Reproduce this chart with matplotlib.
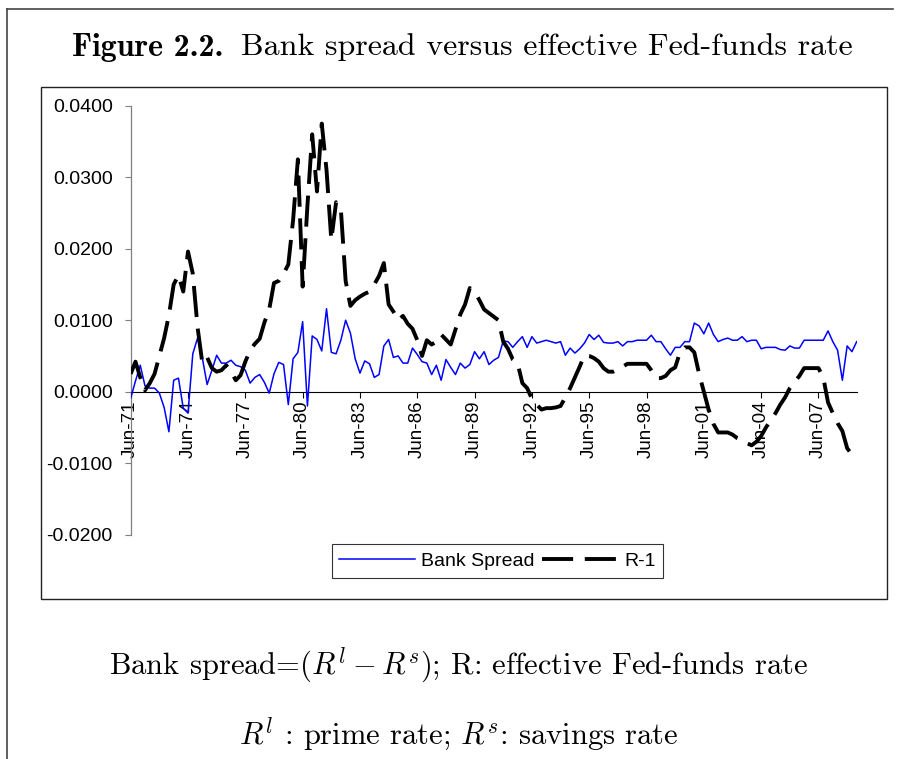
import matplotlib
matplotlib.use("Agg")
import matplotlib.pyplot as plt
import pandas as pd
from matplotlib.patches import Rectangle
from matplotlib.lines import Line2D

# ── Data (quarterly, Jun-71 .. Jun-09) ───────────────────────
quarters = pd.period_range("1971Q2", periods=153, freq="Q")
quarter_labels = [q.strftime("%b-%y") for q in quarters]

bank_spread = [
    -0.0009, 0.0015, 0.0037, 0.0008, 0.0005, 0.0005, -0.0002, -0.0022, -0.0056, 0.0016,
    0.0019, -0.0023, -0.0030, 0.0053, 0.0075, 0.0047, 0.0010, 0.0030, 0.0051, 0.0040,
    0.0040, 0.0044, 0.0037, 0.0035, 0.0030, 0.0012, 0.0020, 0.0024, 0.0013, -0.0002,
    0.0025, 0.0041, 0.0038, -0.0018, 0.0046, 0.0055, 0.0098, -0.0020, 0.0078, 0.0073,
    0.0057, 0.0116, 0.0055, 0.0053, 0.0072, 0.0100, 0.0082, 0.0046, 0.0026, 0.0043,
    0.0039, 0.0020, 0.0024, 0.0064, 0.0073, 0.0048, 0.0050, 0.0040, 0.0040, 0.0061,
    0.0052, 0.0042, 0.0040, 0.0024, 0.0037, 0.0016, 0.0045, 0.0034, 0.0024, 0.0040,
    0.0033, 0.0038, 0.0056, 0.0046, 0.0056, 0.0038, 0.0044, 0.0048, 0.0071, 0.0070,
    0.0062, 0.0070, 0.0077, 0.0062, 0.0077, 0.0068, 0.0070, 0.0072, 0.0070, 0.0068,
    0.0070, 0.0051, 0.0061, 0.0054, 0.0060, 0.0068, 0.0080, 0.0073, 0.0079, 0.0069,
    0.0068, 0.0068, 0.0070, 0.0064, 0.0070, 0.0070, 0.0072, 0.0072, 0.0072, 0.0079,
    0.0070, 0.0070, 0.0060, 0.0051, 0.0062, 0.0062, 0.0070, 0.0070, 0.0096, 0.0092,
    0.0081, 0.0096, 0.0080, 0.0070, 0.0073, 0.0075, 0.0072, 0.0072, 0.0077, 0.0070,
    0.0072, 0.0072, 0.0060, 0.0062, 0.0062, 0.0062, 0.0059, 0.0058, 0.0064, 0.0061,
    0.0061, 0.0072, 0.0072, 0.0072, 0.0072, 0.0072, 0.0085, 0.0070, 0.0058, 0.0016,
    0.0064, 0.0056, 0.0070,
]

r_minus_1 = [
    0.0025, 0.0042, 0.0020, 0.0002, 0.0012, 0.0025, 0.0050, 0.0075, 0.0107, 0.0150,
    0.0163, 0.0140, 0.0196, 0.0165, 0.0090, 0.0040, 0.0048, 0.0033, 0.0028, 0.0030,
    0.0037, 0.0028, 0.0016, 0.0023, 0.0042, 0.0058, 0.0067, 0.0074, 0.0097, 0.0115,
    0.0152, 0.0155, 0.0165, 0.0178, 0.0240, 0.0325, 0.0147, 0.0260, 0.0360, 0.0280,
    0.0375, 0.0310, 0.0212, 0.0265, 0.0255, 0.0155, 0.0120, 0.0128, 0.0133, 0.0137,
    0.0140, 0.0150, 0.0162, 0.0180, 0.0122, 0.0112, 0.0100, 0.0106, 0.0095, 0.0088,
    0.0072, 0.0050, 0.0072, 0.0066, 0.0070, 0.0080, 0.0073, 0.0066, 0.0087, 0.0108,
    0.0122, 0.0145, 0.0140, 0.0128, 0.0115, 0.0110, 0.0105, 0.0100, 0.0070, 0.0060,
    0.0045, 0.0040, 0.0012, 0.0005, -0.0010, -0.0018, -0.0025, -0.0023, -0.0023, -0.0022,
    -0.0020, -0.0008, 0.0005, 0.0020, 0.0035, 0.0051, 0.0050, 0.0047, 0.0042, 0.0033,
    0.0028, 0.0028, 0.0031, 0.0035, 0.0039, 0.0039, 0.0039, 0.0039, 0.0039, 0.0030,
    0.0019, 0.0019, 0.0022, 0.0030, 0.0034, 0.0055, 0.0062, 0.0062, 0.0055, 0.0025,
    0.0000, -0.0025, -0.0045, -0.0057, -0.0057, -0.0057, -0.0060, -0.0065, -0.0068, -0.0072,
    -0.0075, -0.0070, -0.0062, -0.0050, -0.0040, -0.0030, -0.0018, -0.0008, 0.0005, 0.0014,
    0.0022, 0.0033, 0.0033, 0.0033, 0.0033, 0.0020, -0.0015, -0.0030, -0.0044, -0.0055,
    -0.0079, -0.0088, -0.0096,
]

y_ticks = [-0.02, -0.01, 0.0, 0.01, 0.02, 0.03, 0.04]
y_tick_labels = ["-0.0200", "-0.0100", "0.0000", "0.0100", "0.0200", "0.0300", "0.0400"]
x_tick_step = 12

# ── Figure ───────────────────────────────────────────────────
plt.rcParams["mathtext.fontset"] = "cm"
W, H = 901, 759
fig = plt.figure(figsize=(W / 100, H / 100), dpi=100)
fig.patch.set_facecolor("white")
renderer = fig.canvas.get_renderer()


def fx(px):
    return px / W


def fy(py):
    return 1 - py / H


# outer page frame (top + left)
fig.add_artist(Line2D([fx(7), fx(893)], [fy(9), fy(9)], color="#444444", lw=1.2))
fig.add_artist(Line2D([fx(7), fx(7)], [fy(9), 0], color="#444444", lw=1.2))

# chart area box
fig.add_artist(Rectangle((fx(40.7), fy(599)), fx(887) - fx(40.7), fy(87) - fy(599),
                         fill=False, edgecolor="#222222", lw=1.0))

# title: bold "Figure 2.2." + roman rest, centred as one line
TITLE_SIZE = 23
t_bold = fig.text(0, fy(47), "Figure 2.2.", fontfamily="cmb10", fontsize=TITLE_SIZE,
                  ha="left", va="center")
t_rest = fig.text(0, fy(47), "Bank spread versus effective Fed-funds rate",
                  fontfamily="cmr10", fontsize=TITLE_SIZE, ha="left", va="center")
w_bold = t_bold.get_window_extent(renderer).width
w_rest = t_rest.get_window_extent(renderer).width
gap = 18
x0 = 462.5 - (w_bold + gap + w_rest) / 2
t_bold.set_x(fx(x0))
t_rest.set_x(fx(x0 + w_bold + gap))

# caption
CAP_SIZE = 22
fig.text(fx(459), fy(665), r"Bank spread=$(R^l - R^s)$; R: effective Fed-funds rate",
         fontfamily="cmr10", fontsize=CAP_SIZE, ha="center", va="center")
fig.text(fx(459), fy(734), r"$R^l$ : prime rate; $R^s$: savings rate",
         fontfamily="cmr10", fontsize=CAP_SIZE, ha="center", va="center")

# ── Plot area ────────────────────────────────────────────────
ax = fig.add_axes([fx(130.7), fy(534.7), fx(856.7) - fx(130.7), fy(105.7) - fy(534.7)])
ax.set_facecolor("none")
x = list(range(len(quarter_labels)))

ax.plot(x, bank_spread, color="#0000ff", lw=1.1, label="Bank Spread", zorder=3)
ax.plot(x, r_minus_1, color="black", lw=2.8, dashes=(8, 3), label="R-1",
        solid_capstyle="butt", dash_capstyle="butt", zorder=4)

ax.set_xlim(0, len(x) - 1)
ax.set_ylim(-0.02, 0.04)

ax.spines["top"].set_visible(False)
ax.spines["right"].set_visible(False)
ax.spines["bottom"].set_position(("data", 0))
ax.spines["bottom"].set_color("black")
ax.spines["bottom"].set_linewidth(0.8)
ax.spines["left"].set_color("#808080")
ax.spines["left"].set_linewidth(0.9)

ax.set_yticks(y_ticks)
ax.set_yticklabels(y_tick_labels, fontfamily="Liberation Sans", fontsize=14)
ax.tick_params(axis="y", direction="out", length=4, width=0.8, color="#808080", pad=9)

xt = x[::x_tick_step]
ax.set_xticks(xt)
ax.set_xticklabels([quarter_labels[i] for i in xt], rotation=90,
                   fontfamily="Liberation Sans", fontsize=13.5, va="top", ha="center")
ax.tick_params(axis="x", direction="out", length=4, width=0.8, color="black", pad=2)

leg = ax.legend(loc="center", bbox_to_anchor=(fx(497.5), fy(561)),
                bbox_transform=fig.transFigure, ncol=2, frameon=True, fancybox=False,
                prop={"family": "Liberation Sans", "size": 14}, handlelength=3.9,
                handletextpad=0.3, columnspacing=0.4, borderpad=0.4, borderaxespad=0)
leg.get_frame().set_edgecolor("black")
leg.get_frame().set_linewidth(0.8)

fig.savefig("out.png", dpi=100, facecolor="white")
